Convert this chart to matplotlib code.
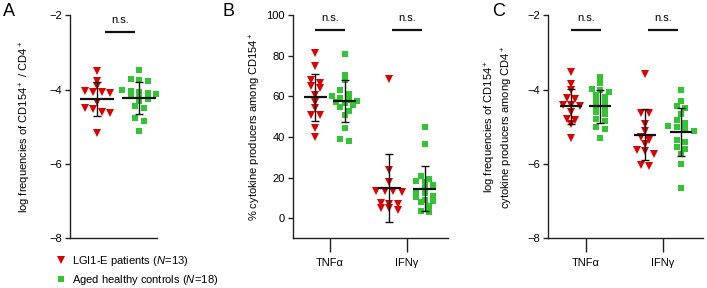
import numpy as np
import matplotlib
matplotlib.use('Agg')
import matplotlib.pyplot as plt
from matplotlib.lines import Line2D
from matplotlib.transforms import blended_transform_factory

plt.rcParams['font.family'] = ['Liberation Sans', 'DejaVu Sans']
plt.rcParams['font.size'] = 8
plt.rcParams['mathtext.fontset'] = 'custom'
plt.rcParams['mathtext.rm'] = 'Liberation Sans'
plt.rcParams['mathtext.it'] = 'Liberation Sans:italic'
plt.rcParams['mathtext.bf'] = 'Liberation Sans:bold'

RED = '#dd0000'
GREEN = '#33c433'

# --- panel A: log freq CD154+ / CD4+
a_pat = [-3.49, -3.76, -3.90, -4.03, -4.07, -4.07, -4.10, -4.34, -4.50,
         -4.52, -4.60, -4.62, -5.17]
a_ctl = [-3.47, -3.72, -3.74, -3.76, -4.02, -4.03, -4.05, -4.10, -4.12,
         -4.17, -4.20, -4.25, -4.30, -4.45, -4.50, -4.77, -4.84, -5.10]
a_mean = [-4.25, -4.23]
a_sd = [0.45, 0.43]

# --- panel B: % cytokine producers among CD154+
cytokines = ['TNF\u03b1', 'IFN\u03b3']
b_pat_tnf = [81.5, 74.9, 66.7, 68.0, 65.1, 64.0, 60.7, 57.4, 54.1, 50.8,
             50.8, 44.3, 39.9]
b_ctl_tnf = [81, 70.5, 68, 63, 61, 60, 59, 58.5, 58, 57.5, 57, 56, 55, 53,
             51, 44.5, 39, 38]
b_pat_ifn = [68.4, 23.8, 17.6, 13.6, 13.4, 13.2, 13.0, 7.4, 7.2, 6.8, 5.0,
             4.8, 3.8]
b_ctl_ifn = [44.8, 36.4, 21, 19.5, 18.5, 18, 16.5, 15.5, 13, 12.5, 11, 10.5,
             9, 8.5, 8, 6, 3.5, 3]
b_mean = [59.5, 57.6, 14.7, 14.5]
b_sd = [11.7, 10.3, 16.8, 11.1]

# --- panel C: log freq of cytokine producing CD154+ among CD4+
c_pat_tnf = [-3.52, -3.84, -4.0, -4.22, -4.25, -4.40, -4.42, -4.45, -4.6,
             -4.78, -4.82, -4.92, -5.3]
c_ctl_tnf = [-3.65, -3.82, -3.98, -4.0, -4.05, -4.15, -4.2, -4.28, -4.32,
             -4.45, -4.55, -4.6, -4.65, -4.8, -4.85, -5.0, -5.05, -5.3]
c_pat_ifn = [-3.59, -4.62, -4.63, -4.92, -5.1, -5.28, -5.35, -5.46, -5.62,
             -5.65, -5.72, -6.02, -6.05]
c_ctl_ifn = [-4.0, -4.3, -4.45, -4.5, -4.65, -4.82, -4.9, -4.98, -5.0, -5.05,
             -5.1, -5.35, -5.4, -5.55, -5.6, -5.72, -6.0, -6.63]
c_mean = [-4.45, -4.45, -5.21, -5.13]
c_sd = [0.48, 0.44, 0.68, 0.65]

legend_labels = [r'LGI1-E patients ($\mathit{N\!=\!13}$)',
                 r'Aged healthy controls ($\mathit{N\!=\!18}$)']


def px_scale(ax):
    fig = ax.figure
    bb = ax.get_position()
    w = bb.width * fig.get_figwidth() * fig.dpi
    h = bb.height * fig.get_figheight() * fig.dpi
    x0, x1 = ax.get_xlim()
    y0, y1 = ax.get_ylim()
    return w / (x1 - x0), h / (y1 - y0)


def rows(vals, ypx, h=4.5, sp=8.5):
    # prism-like scatter: points close in y share a row, rows centred
    vals = np.asarray(vals, float)
    order = np.argsort(-vals)
    offs = np.zeros(len(vals))
    cur = [order[0]]
    for i in order[1:]:
        if (vals[cur[0]] - vals[i]) * ypx > h:
            n = len(cur)
            for j, k in enumerate(cur):
                offs[k] = (j - (n - 1) / 2) * sp
            cur = [i]
        else:
            cur.append(i)
    n = len(cur)
    for j, k in enumerate(cur):
        offs[k] = (j - (n - 1) / 2) * sp
    return offs


def group(ax, x, vals, mean, sd, color, marker, ms, hw):
    xpx, ypx = px_scale(ax)
    offs = rows(vals, ypx)
    ax.plot(x + offs / xpx, vals, ls='none', marker=marker, color=color,
            ms=ms, mec=color, mew=0, zorder=3, clip_on=False)
    ax.errorbar([x], [mean], yerr=[sd], fmt='none', ecolor='#111111',
                elinewidth=1.0, capsize=3, capthick=1.0, zorder=4)
    ax.plot([x - hw / xpx, x + hw / xpx], [mean, mean], color='#111111',
            lw=1.6, zorder=5, solid_capstyle='butt')


def ns(ax, xc, ly, ty, halfpx=15):
    xpx, _ = px_scale(ax)
    tr = blended_transform_factory(ax.transData, ax.transAxes)
    ax.plot([xc - halfpx / xpx, xc + halfpx / xpx], [ly, ly], color='#111111',
            lw=1.6, transform=tr, clip_on=False, solid_capstyle='butt')
    ax.text(xc, ty, 'n.s.', ha='center', va='center', transform=tr)


def style(ax):
    for s in ['top', 'right']:
        ax.spines[s].set_visible(False)
    for s in ['left', 'bottom']:
        ax.spines[s].set_linewidth(1.0)
        ax.spines[s].set_color('#222222')
    ax.tick_params(axis='y', length=3.5, width=1.0, pad=2, color='#222222')
    ax.tick_params(axis='x', length=10, width=1.0, pad=4, color='#222222')


fig = plt.figure(figsize=(7.07, 2.88), dpi=100)
bottom, height = 0.1719, 0.775
TRI, SQ = 5.5, 5.0

# A
axA = fig.add_axes([0.099, bottom, 0.1226, height])
axA.set_xlim(-0.65, 1.414)
axA.set_ylim(-8, -2)
axA.set_yticks([-8, -6, -4, -2])
axA.set_xticks([])
style(axA)
group(axA, 0, a_pat, a_mean[0], a_sd[0], RED, 'v', TRI, 17)
group(axA, 1, a_ctl, a_mean[1], a_sd[1], GREEN, 's', SQ, 17)
ns(axA, 0.55, 0.925, 0.977)

# B and C share layout
pos_x = [1 - 0.19, 1 + 0.19, 2 - 0.232, 2 + 0.232]

axB = fig.add_axes([0.414, bottom, 0.2201, height])
axB.set_xlim(0.516, 2.536)
axB.set_ylim(-10, 100)
axB.set_yticks([0, 20, 40, 60, 80, 100])
axB.set_xticks([1, 2])
axB.set_xticklabels(cytokines)
style(axB)
b_sets = [b_pat_tnf, b_ctl_tnf, b_pat_ifn, b_ctl_ifn]
for i, v in enumerate(b_sets):
    col, mk, ms = (RED, 'v', TRI) if i % 2 == 0 else (GREEN, 's', SQ)
    group(axB, pos_x[i], v, b_mean[i], b_sd[i], col, mk, ms, 11.5)
ns(axB, 1, 0.936, 0.986)
ns(axB, 2, 0.936, 0.986)

axC = fig.add_axes([0.7747, bottom, 0.2197, height])
axC.set_xlim(0.506, 2.52)
axC.set_ylim(-8, -2)
axC.set_yticks([-8, -6, -4, -2])
axC.set_xticks([1, 2])
axC.set_xticklabels(cytokines)
style(axC)
c_sets = [c_pat_tnf, c_ctl_tnf, c_pat_ifn, c_ctl_ifn]
for i, v in enumerate(c_sets):
    col, mk, ms = (RED, 'v', TRI) if i % 2 == 0 else (GREEN, 's', SQ)
    group(axC, pos_x[i], v, c_mean[i], c_sd[i], col, mk, ms, 11)
ns(axC, 1, 0.936, 0.986)
ns(axC, 2, 0.936, 0.986)

# axis labels
yc = bottom + height / 2
fig.text(25 / 707, yc, r'log frequencies of CD154$^+$ / CD4$^+$',
         rotation=90, ha='center', va='center')
fig.text(255 / 707, yc, r'% cytokine producers among CD154$^+$',
         rotation=90, ha='center', va='center')
fig.text(499 / 707, yc,
         'log frequencies of CD154$^+$\ncytokine producers among CD4$^+$',
         rotation=90, ha='center', va='center', multialignment='center',
         linespacing=1.1)

# panel letters
for x, lab in [(3, 'A'), (222, 'B'), (492, 'C')]:
    fig.text(x / 707, 1 - 3 / 288, lab, fontsize=13, ha='left', va='top')

handles = [Line2D([], [], ls='none', marker='v', color=RED, ms=TRI, mew=0),
           Line2D([], [], ls='none', marker='s', color=GREEN, ms=SQ, mew=0)]
fig.legend(handles, legend_labels, loc='upper left',
           bbox_to_anchor=(55 / 707, 1 - 254 / 288), frameon=False,
           handlelength=1.0, handletextpad=0.5, borderpad=0,
           borderaxespad=0, labelspacing=0.45, fontsize=8)

fig.savefig('out.png', dpi=100)
